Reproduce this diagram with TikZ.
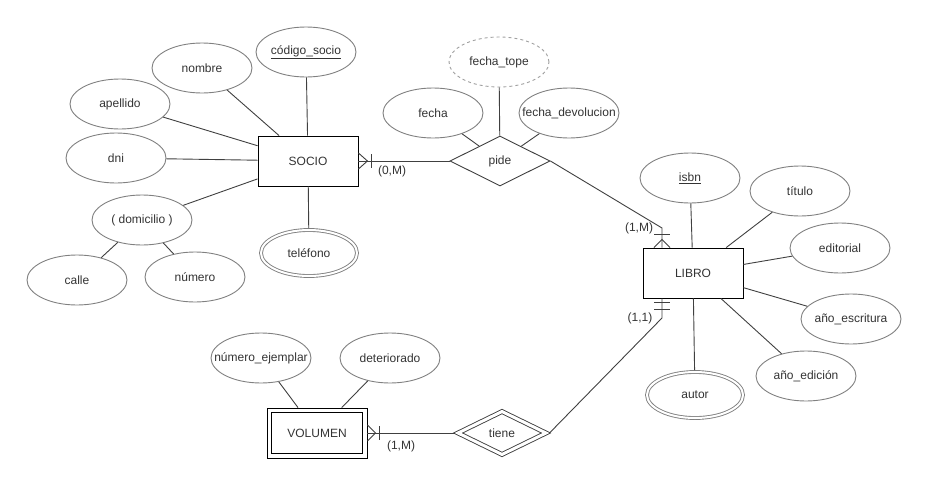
\documentclass[tikz,border=0pt]{standalone}
\usepackage{fontspec}
\setmainfont{Liberation Sans}
\usepackage{tikz}
\usepackage{xcolor}
\usetikzlibrary{
  shapes.geometric, calc,
}
\definecolor{erText}{HTML}{333333}
\definecolor{erAttr}{HTML}{808080}
\definecolor{erLine}{HTML}{404040}
\definecolor{erDash}{HTML}{A0A0A0}

\begin{document}
\begin{tikzpicture}[x=1pt, y=-1pt, line width=0.9pt,
    every node/.style={font=\fontsize{12}{14}\selectfont, text=erText},
    attr/.style={ellipse, draw=erAttr, minimum width=100pt, minimum height=50pt,
                 inner xsep=-16pt, inner ysep=0pt},
    multiattr/.style={attr, double, double distance=2pt, minimum width=96pt,
                 minimum height=46pt, outer sep=2pt},
    derived/.style={attr, draw=erDash, dashed},
    entity/.style={rectangle, draw=black, minimum width=100pt, minimum height=50pt},
    relation/.style={diamond, draw=erLine, minimum width=100pt, minimum height=50pt,
                 inner sep=0pt},
    weakrelation/.style={relation, double, double distance=3pt, minimum width=90pt,
                 minimum height=45pt, outer sep=2.5pt},
    conn/.style={draw=erLine},
    card/.style={inner sep=0pt},
  ]
  \useasboundingbox (0,0) rectangle (927,485);

  \node[entity] (socio) at (308,161) {SOCIO};
  \node[entity] (libro) at (693,273) {LIBRO};
  \node[entity] (volumen) at (317,433) {VOLUMEN};
  \draw[black] ($(volumen.north west)+(5,5)$) rectangle ($(volumen.south east)+(-5,-5)$);
  \node[relation] (pide) at (500,161) {pide};
  \node[weakrelation] (tiene) at (502,433) {tiene};

  \node[attr] (codigo) at (306,52) {\underline{código\_socio}};
  \node[attr] (nombre) at (202,68) {nombre};
  \node[attr] (apellido) at (120,104) {apellido};
  \node[attr] (dni) at (116,158) {dni};
  \node[attr] (domicilio) at (142,220) {( domicilio )};
  \node[attr] (calle) at (77,280) {calle};
  \node[attr] (numero) at (195,277) {número};
  \node[multiattr] (telefono) at (309,253) {teléfono};

  \node[attr] (fecha) at (433,113) {fecha};
  \node[derived] (tope) at (499,62) {fecha\_tope};
  \node[attr] (devol) at (569,113) {fecha\_devolucion};

  \node[attr] (isbn) at (690,178) {\underline{isbn}};
  \node[attr] (titulo) at (800,191) {título};
  \node[attr] (editorial) at (840,248) {editorial};
  \node[attr] (escritura) at (851,319) {año\_escritura};
  \node[attr] (edicion) at (806,376) {año\_edición};
  \node[multiattr] (autor) at (695,395) {autor};

  \node[attr] (ejemplar) at (261,358) {número\_ejemplar};
  \node[attr] (deterioro) at (390,358) {deteriorado};

  \foreach \a in {codigo, nombre, apellido, dni, domicilio, telefono}
    \draw[conn] (\a) -- (socio);
  \draw[conn] (domicilio) -- (calle);
  \draw[conn] (domicilio) -- (numero);
  \foreach \a in {fecha, tope, devol}
    \draw[conn] (\a) -- (pide);
  \foreach \a in {isbn, titulo, editorial, escritura, edicion, autor}
    \draw[conn] (\a) -- (libro);
  \foreach \a in {ejemplar, deterioro}
    \draw[conn] (\a) -- (volumen);

  \coordinate (ltop) at (662,228);
  \coordinate (lbot) at (662,318);

  \draw[conn] (socio.east) -- (pide.west);
  \draw[conn] ($(socio.east)+(0,-8)$) -- ++(9,8) -- ++(-9,8);
  \draw[conn] ($(socio.east)+(13,-7)$) -- ++(0,14);

  \draw[conn] (pide.east) -- (ltop) -- (ltop |- libro.north);
  \draw[conn] ($(ltop |- libro.north)+(-8,0)$) -- ++(8,-8) -- ++(8,8);
  \draw[conn] ($(ltop |- libro.north)+(-8,-13)$) -- ++(16,0);

  \draw[conn] (tiene.east) -- (lbot) -- (lbot |- libro.south);
  \draw[conn] ($(lbot |- libro.south)+(-8,4)$) -- ++(16,0);
  \draw[conn] ($(lbot |- libro.south)+(-8,11)$) -- ++(16,0);

  \draw[conn] (volumen.east) -- (tiene.west);
  \draw[conn] ($(volumen.east)+(0,-8)$) -- ++(8,8) -- ++(-8,8);
  \draw[conn] ($(volumen.east)+(12,-7)$) -- ++(0,14);

  \node[card] (c1) at (392,171) {(0,M)};
  \node[card] (c2) at (639,228) {(1,M)};
  \node[card] (c3) at (640,318) {(1,1)};
  \node[card] (c4) at (401,446) {(1,M)};
\end{tikzpicture}
\end{document}
